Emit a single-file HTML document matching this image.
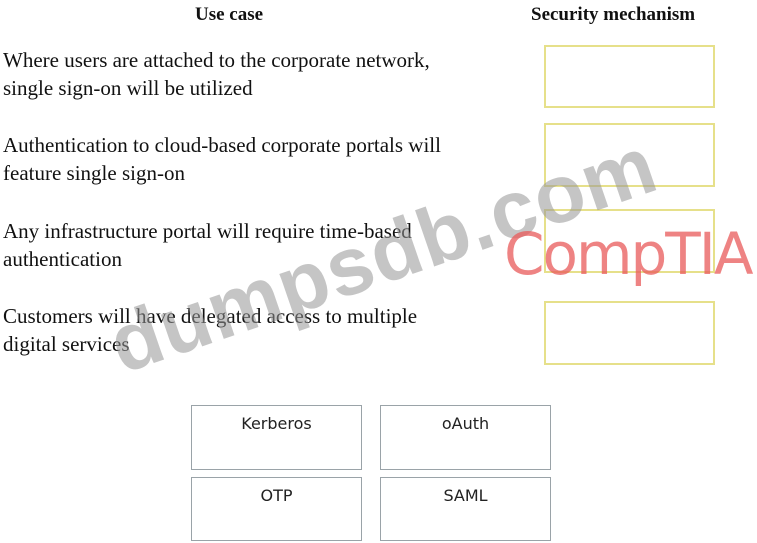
<!DOCTYPE html>
<html><head><meta charset="utf-8"><style>
body{margin:0;width:757px;height:543px;background:#fff;position:relative;overflow:hidden;font-family:"Liberation Serif",serif;color:#111}
.a{position:absolute}
.t{font-size:21px;line-height:28px;left:3px;white-space:nowrap}
.h{font-weight:bold;font-size:19px}
.y{position:absolute;left:544px;width:171px;border:2px solid #e6e08a;box-sizing:border-box}
.g{position:absolute;width:171px;border:1.5px solid #9aa3a8;box-sizing:border-box;font-family:"DejaVu Sans","Liberation Sans",sans-serif;font-size:16px;text-align:center;padding-top:8px;color:#222}
</style></head><body>
<div class="a h" style="left:195px;top:4px">Use case</div>
<div class="a h" style="left:531px;top:4px">Security mechanism</div>
<div class="a t" style="top:46px">Where users are attached to the corporate network,<br>single sign-on will be utilized</div>
<div class="a t" style="top:131px">Authentication to cloud-based corporate portals will<br>feature single sign-on</div>
<div class="a t" style="top:217px">Any infrastructure portal will require time-based<br>authentication</div>
<div class="a t" style="top:302px">Customers will have delegated access to multiple<br>digital services</div>
<div class="y" style="top:45px;height:63px"></div>
<div class="y" style="top:123px;height:64px"></div>
<div class="y" style="top:209px;height:64px"></div>
<div class="y" style="top:301px;height:64px"></div>
<div class="g" style="left:191px;top:405px;height:65px">Kerberos</div>
<div class="g" style="left:380px;top:405px;height:65px">oAuth</div>
<div class="g" style="left:191px;top:477px;height:64px">OTP</div>
<div class="g" style="left:380px;top:477px;height:64px">SAML</div>
<div class="a" style="left:128px;top:300px;font-family:'Liberation Sans',sans-serif;font-weight:bold;font-size:82px;line-height:92px;color:rgba(150,150,150,0.55);transform:rotate(-19deg);transform-origin:left bottom;white-space:nowrap;letter-spacing:1px">dumpsdb.com</div>
<div class="a" style="left:504px;top:220px;font-family:'DejaVu Sans','Liberation Sans',sans-serif;font-size:58px;line-height:68px;color:rgba(232,90,90,0.75);white-space:nowrap;letter-spacing:-2px">CompTIA</div>
</body></html>
